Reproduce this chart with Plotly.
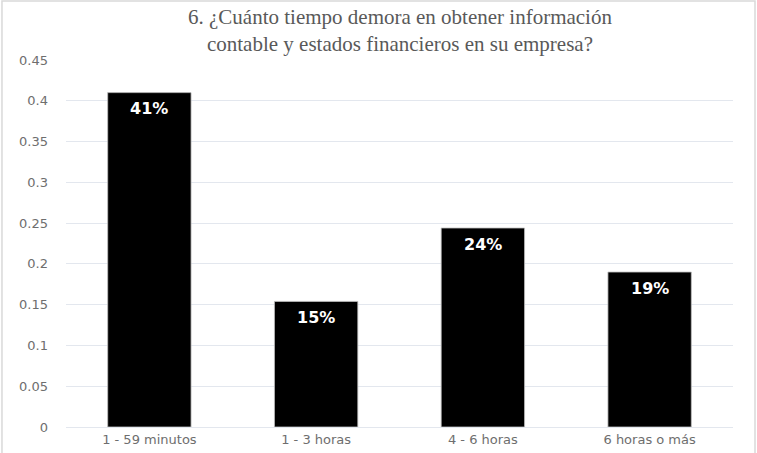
import plotly.graph_objects as go

# Datos
categorias = ["1 - 59 minutos", "1 - 3 horas", "4 - 6 horas", "6 horas o más"]
valores = [0.41, 0.154, 0.244, 0.19]
etiquetas = ["41%", "15%", "24%", "19%"]
y_ticks = [0, 0.05, 0.1, 0.15, 0.2, 0.25, 0.3, 0.35, 0.4, 0.45]
y_tick_text = ["0", "0.05", "0.1", "0.15", "0.2", "0.25", "0.3", "0.35", "0.4", "0.45"]

titulo = ("6. ¿Cuánto tiempo demora en obtener información<br>"
          "contable y estados financieros en su empresa?")

fig = go.Figure()

fig.add_trace(
    go.Bar(
        x=categorias,
        y=valores,
        marker=dict(color="#000000", line=dict(color="#bfbfbf", width=0.8)),
        hoverinfo="x+y",
    )
)

# etiquetas blancas dentro de la barra, cerca del borde superior
for cat, val, lab in zip(categorias, valores, etiquetas):
    fig.add_annotation(
        x=cat,
        y=val,
        text=f"<b>{lab}</b>",
        showarrow=False,
        yanchor="middle",
        yshift=-16,
        font=dict(family="DejaVu Sans", size=16, color="#ffffff"),
    )

# título centrado sobre el área del gráfico
fig.add_annotation(
    xref="paper", yref="paper",
    x=0.5, y=1.08,
    text=titulo,
    showarrow=False,
    xanchor="center",
    yanchor="middle",
    font=dict(family="Liberation Serif", size=21, color="#595959"),
)

# marco exterior del gráfico
fig.add_shape(
    type="rect",
    xref="paper", yref="paper",
    x0=-0.096, x1=1.033, y0=-0.1, y1=1.161,
    line=dict(color="#d9d9d9", width=1.5),
    fillcolor="rgba(0,0,0,0)",
    layer="below",
)

fig.update_layout(
    width=757,
    height=453,
    paper_bgcolor="#ffffff",
    plot_bgcolor="#ffffff",
    showlegend=False,
    bargap=0.5,
    margin=dict(l=66, r=24, t=60, b=26, autoexpand=False),
    xaxis=dict(
        automargin=False,
        showgrid=False,
        showline=True,
        linecolor="#e3e7ee",
        linewidth=1,
        ticks="",
        tickfont=dict(family="DejaVu Sans", size=13, color="#6e6e6e"),
    ),
    yaxis=dict(
        automargin=False,
        range=[0, 0.45],
        tickvals=y_ticks,
        ticktext=y_tick_text,
        showgrid=True,
        gridcolor="#e3e7ee",
        gridwidth=1,
        zeroline=False,
        ticks="",
        ticklabelstandoff=17,
        tickfont=dict(family="DejaVu Sans", size=13, color="#6e6e6e"),
    ),
)

# sin el margen por defecto del <body>, la figura ocupa la ventana desde (0, 0)
fig.write_html(
    "out.html",
    config={"displayModeBar": False},
    post_script="document.body.style.margin = '0';",
)
